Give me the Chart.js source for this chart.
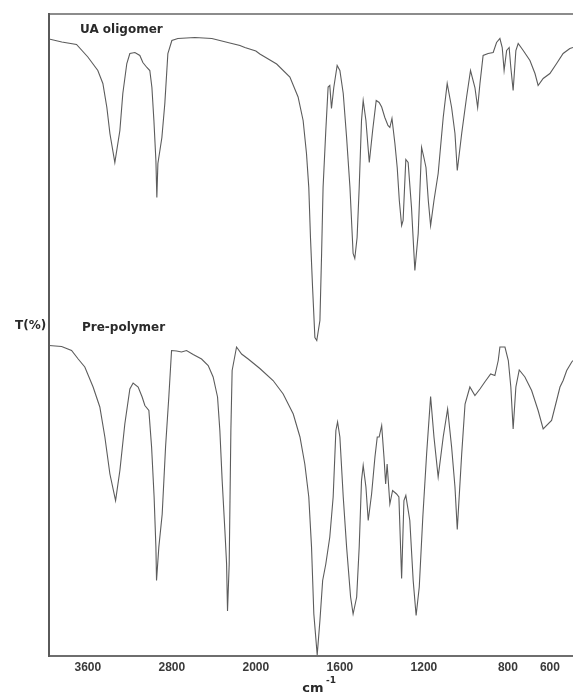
<!DOCTYPE html>
<html>
<head>
<meta charset="utf-8">
<script src="https://cdn.jsdelivr.net/npm/chart.js@4"></script>
<style>
  html, body { margin: 0; padding: 0; background: #fff; }
  #wrap { width: 573px; height: 692px; }
</style>
</head>
<body>
<div id="wrap"><canvas id="ftir" width="573" height="692"></canvas></div>
<script>
// --- DATA (wavenumber in cm-1, offset transmittance in arbitrary units) ---
const tickValues = [3600, 2800, 2000, 1600, 1200, 800, 600];
const axisBreak = 2000;   // scale is expanded x2 below this wavenumber
const wnMax = 3970;
const wnMin = 490;

const uaWavenumber = [3970, 3848, 3708, 3600, 3505, 3457, 3419, 3390, 3343, 3295, 3267, 3229, 3200, 3152, 3105, 3076, 3038, 3010, 2990, 2971, 2952, 2943, 2933, 2895, 2867, 2838, 2800, 2743, 2581, 2419, 2267, 2152, 2105, 2000, 1981, 1901, 1838, 1799, 1775, 1759, 1748, 1740, 1730, 1719, 1710, 1695, 1687, 1680, 1667, 1656, 1648, 1640, 1629, 1613, 1600, 1584, 1568, 1552, 1537, 1529, 1518, 1508, 1497, 1489, 1476, 1460, 1444, 1427, 1413, 1401, 1386, 1371, 1362, 1352, 1338, 1327, 1317, 1306, 1299, 1286, 1275, 1259, 1243, 1227, 1211, 1200, 1190, 1179, 1168, 1152, 1132, 1108, 1089, 1068, 1052, 1041, 1020, 997, 978, 957, 944, 933, 918, 894, 870, 854, 838, 827, 818, 806, 794, 786, 775, 762, 751, 727, 695, 671, 656, 632, 600, 568, 537, 505, 490];
const uaT = [123.4, 122.8, 122.3, 119.8, 117.1, 114.5, 109.7, 104.5, 98.7, 105.1, 112.5, 118.5, 120.5, 120.7, 120.1, 118.7, 117.7, 117.1, 113.7, 107.1, 99.1, 91.7, 98.5, 103.7, 110.5, 120.5, 123.1, 123.5, 123.7, 123.5, 122.7, 122.1, 121.7, 121.0, 120.4, 118.4, 115.8, 111.8, 107.1, 100.5, 93.7, 83.7, 73.7, 63.7, 63.1, 67.1, 80.5, 93.7, 105.1, 113.8, 114.1, 109.5, 113.7, 118.1, 117.1, 112.5, 103.7, 93.7, 80.5, 79.5, 83.7, 93.7, 107.1, 111.1, 107.1, 98.7, 105.1, 111.1, 110.7, 109.8, 107.7, 106.1, 105.7, 107.5, 102.5, 97.7, 91.1, 86.1, 87.1, 99.3, 98.7, 89.7, 77.1, 84.5, 101.7, 99.7, 97.7, 91.1, 86.1, 91.1, 96.5, 107.7, 114.5, 109.7, 104.5, 97.1, 104.5, 111.7, 117.1, 113.7, 109.7, 114.5, 120.1, 120.5, 120.7, 122.7, 123.5, 121.7, 117.1, 121.1, 121.7, 117.7, 113.1, 121.1, 122.5, 121.1, 119.1, 116.5, 114.1, 115.5, 116.5, 118.5, 120.5, 121.5, 121.7];

const preWavenumber = [3970, 3850, 3755, 3692, 3629, 3550, 3486, 3438, 3390, 3336, 3295, 3248, 3200, 3169, 3121, 3083, 3057, 3019, 2993, 2969, 2952, 2946, 2924, 2892, 2860, 2829, 2803, 2755, 2708, 2660, 2597, 2517, 2454, 2407, 2365, 2343, 2321, 2295, 2279, 2270, 2254, 2238, 2226, 2184, 2136, 2073, 1981, 1918, 1870, 1822, 1790, 1767, 1748, 1735, 1724, 1708, 1695, 1682, 1667, 1648, 1632, 1619, 1611, 1600, 1584, 1568, 1549, 1537, 1520, 1508, 1497, 1489, 1476, 1465, 1449, 1433, 1422, 1413, 1401, 1390, 1382, 1375, 1362, 1349, 1330, 1319, 1306, 1295, 1286, 1267, 1251, 1237, 1222, 1205, 1187, 1168, 1152, 1132, 1108, 1087, 1068, 1052, 1041, 1020, 1004, 981, 957, 933, 910, 882, 862, 846, 838, 814, 798, 786, 775, 762, 746, 719, 687, 656, 632, 592, 568, 552, 537, 520, 496, 490];
const preT = [62.1, 61.9, 61.1, 59.4, 57.8, 53.8, 49.8, 43.8, 36.4, 31.1, 37.1, 46.4, 53.4, 54.6, 53.8, 51.8, 50.1, 49.1, 41.8, 31.8, 21.8, 15.1, 21.8, 28.4, 41.8, 51.8, 61.1, 61.0, 60.8, 61.1, 60.3, 59.4, 58.1, 55.8, 51.8, 45.1, 35.1, 25.1, 18.5, 9.0, 18.4, 45.1, 57.1, 61.8, 60.4, 59.4, 57.5, 55.1, 52.4, 48.4, 43.8, 38.4, 31.8, 21.8, 8.4, 0.2, 7.1, 15.1, 18.4, 23.8, 31.8, 45.1, 46.8, 43.8, 31.8, 21.8, 11.8, 8.4, 11.8, 21.8, 35.1, 38.1, 33.8, 27.1, 32.4, 39.8, 43.8, 43.8, 46.1, 39.8, 34.4, 38.4, 30.4, 33.1, 32.4, 31.8, 15.5, 31.1, 32.1, 27.1, 15.1, 8.1, 13.8, 27.9, 40.4, 51.9, 43.8, 35.8, 43.8, 49.4, 41.8, 33.8, 25.3, 40.4, 50.4, 53.8, 52.1, 53.4, 54.8, 56.4, 56.1, 59.1, 61.8, 61.8, 59.1, 53.8, 45.4, 53.8, 57.2, 55.8, 53.1, 49.1, 45.4, 47.1, 51.1, 53.8, 55.1, 57.1, 58.8, 59.1];

// --- SPLIT WAVENUMBER SCALE (high wavenumber on the left, x2 below the break) ---
class SplitWavenumberScale extends Chart.LinearScale {
    static id = 'splitWavenumber';
    static defaults = {};

    _span() {
        return (this.max - axisBreak) + (axisBreak - this.min) * 2;
    }
    getPixelForValue(value) {
        const v = +value;
        const u = v >= axisBreak ? (this.max - v) : (this.max - axisBreak) + (axisBreak - v) * 2;
        return this.getPixelForDecimal(u / this._span());
    }
    getValueForPixel(pixel) {
        const u = this.getDecimalForPixel(pixel) * this._span();
        const top = this.max - axisBreak;
        return u <= top ? this.max - u : axisBreak - (u - top) / 2;
    }
}
Chart.register(SplitWavenumberScale);

const toPoints = (xs, ys) => xs.map((x, i) => ({ x: x, y: ys[i] }));

// --- free text labels ---
const labelPlugin = {
    id: 'ftirLabels',
    afterDraw(chart) {
        const ctx = chart.ctx;
        ctx.save();
        ctx.fillStyle = '#2a2a2a';
        ctx.textBaseline = 'alphabetic';
        ctx.textAlign = 'left';
        ctx.font = 'bold 12px "DejaVu Sans"';
        ctx.fillText('UA oligomer', 80, 33);
        ctx.fillText('Pre-polymer', 82, 331);
        ctx.fillText('T(%)', 15, 329);
        ctx.font = 'bold 13px "DejaVu Sans"';
        ctx.textAlign = 'center';
        ctx.fillText('cm', 313, 692);
        ctx.font = 'bold 9px "DejaVu Sans"';
        ctx.textAlign = 'left';
        ctx.fillText('-1', 326, 683);
        ctx.restore();
    }
};

new Chart(document.getElementById('ftir').getContext('2d'), {
    type: 'line',
    data: {
        datasets: [
            {
                label: 'UA oligomer',
                data: toPoints(uaWavenumber, uaT),
                borderColor: '#5c5c5c',
                borderWidth: 1.1,
                pointRadius: 0,
                tension: 0
            },
            {
                label: 'Pre-polymer',
                data: toPoints(preWavenumber, preT),
                borderColor: '#5c5c5c',
                borderWidth: 1.1,
                pointRadius: 0,
                tension: 0
            }
        ]
    },
    options: {
        responsive: false,
        animation: false,
        layout: { padding: 0 },
        plugins: {
            legend: { display: false },
            tooltip: { enabled: false }
        },
        scales: {
            x: {
                type: 'splitWavenumber',
                position: 'bottom',
                min: wnMin,
                max: wnMax,
                bounds: 'data',
                grid: { display: false, drawTicks: false },
                border: { display: true, color: '#6e6e6e', width: 2 },
                afterBuildTicks: (scale) => { scale.ticks = tickValues.map(v => ({ value: v })); },
                afterFit: (scale) => { scale.height = 36; },
                ticks: {
                    autoSkip: false,
                    maxRotation: 0,
                    padding: 4,
                    color: '#3a3a3a',
                    font: { family: 'Liberation Sans', size: 12, weight: 'bold' },
                    callback: (value) => String(value)
                }
            },
            xTop: {
                type: 'linear',
                position: 'top',
                grid: { display: false, drawTicks: false },
                border: { display: true, color: '#8c8c8c', width: 2 },
                ticks: { display: false },
                afterFit: (scale) => { scale.height = 14; }
            },
            y: {
                type: 'linear',
                min: 0,
                max: 128.4,
                grid: { display: false, drawTicks: false },
                border: { display: true, color: '#5a5a5a', width: 2 },
                ticks: { display: false },
                afterFit: (scale) => { scale.width = 49; }
            }
        }
    },
    plugins: [labelPlugin]
});
</script>
</body>
</html>
